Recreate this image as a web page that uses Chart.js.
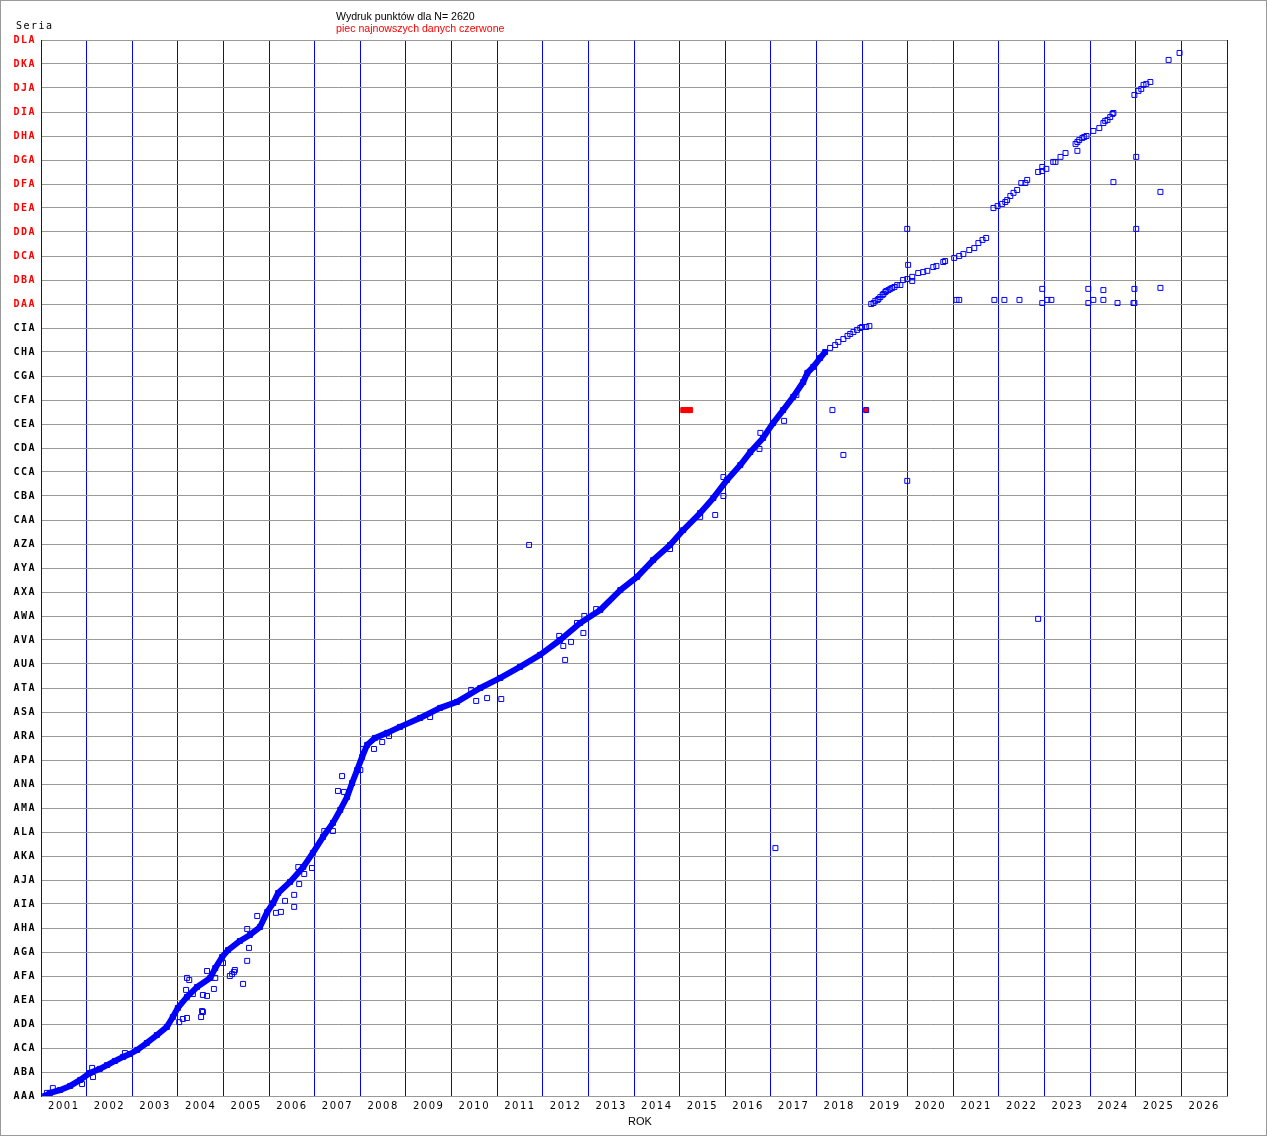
<!DOCTYPE html>
<html>
<head>
<meta charset="utf-8">
<script src="https://cdn.jsdelivr.net/npm/chart.js@4.4.1/dist/chart.umd.min.js"></script>
<style>
  html, body { margin: 0; padding: 0; background: #fff; }
  #wrap { width: 1267px; height: 1136px; }
</style>
</head>
<body>
<div id="wrap"><canvas id="c" width="1267" height="1136"></canvas></div>
<script>
// row labels of the vertical axis (index 0 = AAA at the bottom)
const rows = ['AAA','ABA','ACA','ADA','AEA','AFA','AGA','AHA','AIA','AJA','AKA','ALA','AMA','ANA','APA','ARA',
  'ASA','ATA','AUA','AVA','AWA','AXA','AYA','AZA','CAA','CBA','CCA','CDA','CEA','CFA','CGA','CHA','CIA',
  'DAA','DBA','DCA','DDA','DEA','DFA','DGA','DHA','DIA','DJA','DKA','DLA'];
const firstRedRow = 33; // DAA and above are printed red
const yearLabels = [2001,2002,2003,2004,2005,2006,2007,2008,2009,2010,2011,2012,2013,
  2014,2015,2016,2017,2018,2019,2020,2021,2022,2023,2024,2025,2026];

const titleText = 'Wydruk punktów dla N= 2620';
const subtitleText = 'piec najnowszych danych czerwone';
const yTitle = 'Seria';
const xTitle = 'ROK';

// dense part of the series 2001-2018 [year, row]
const mainCurve = [
  [2001.09,0],[2001.20,0.13],[2001.42,0.25],[2001.64,0.42],[2001.86,0.67],[2002.07,0.96],
  [2002.29,1.13],[2002.45,1.29],[2002.62,1.46],[2002.80,1.63],[2002.95,1.75],[2003.11,1.92],
  [2003.32,2.21],[2003.54,2.54],[2003.76,2.88],[2003.89,3.29],[2004.00,3.67],[2004.20,4.13],
  [2004.42,4.54],[2004.71,4.92],[2004.82,5.33],[2004.97,5.79],[2005.10,6.08],[2005.36,6.46],
  [2005.58,6.71],[2005.80,7.04],[2005.96,7.67],[2006.09,8.04],[2006.20,8.46],[2006.46,8.92],
  [2006.75,9.54],[2006.96,10.13],[2007.18,10.79],[2007.40,11.38],[2007.56,11.92],[2007.71,12.46],
  [2007.82,13.04],[2007.93,13.58],[2008.04,14.13],[2008.15,14.63],[2008.32,14.92],[2008.59,15.13],
  [2008.87,15.38],[2009.31,15.75],[2009.75,16.17],[2010.12,16.42],[2010.63,17.0],[2011.07,17.42],
  [2011.50,17.88],[2011.94,18.38],[2012.38,19.0],[2012.82,19.71],[2013.26,20.25],[2013.70,21.08],
  [2014.07,21.63],[2014.42,22.33],[2014.79,22.96],[2015.08,23.58],[2015.45,24.29],[2015.74,24.92],
  [2016.04,25.67],[2016.33,26.29],[2016.55,26.83],[2016.83,27.42],[2017.05,28.04],[2017.27,28.58],
  [2017.49,29.13],[2017.71,29.75],[2017.80,30.13],[2017.93,30.38],[2018.08,30.75],[2018.19,31.0]
];

// sparse part of the series 2018-2026
const laterPoints = [
  [2018.30,31.17],[2018.41,31.29],[2018.48,31.42],[2018.59,31.54],[2018.68,31.67],[2018.74,31.75],
  [2018.81,31.83],[2018.89,31.92],[2018.96,32.0],[2019.00,32.04],[2019.09,32.04],[2019.16,32.08],
  [2019.20,33.0],[2019.25,33.04],[2019.29,33.13],[2019.34,33.17],[2019.36,33.21],[2019.40,33.29],
  [2019.45,33.38],[2019.47,33.42],[2019.51,33.5],[2019.53,33.54],[2019.58,33.58],[2019.62,33.63],
  [2019.66,33.67],[2019.71,33.71],[2019.77,33.79],[2019.84,33.79],[2019.90,34.0],[2019.99,34.04],
  [2020.10,34.13],[2020.10,33.96],[2020.23,34.29],[2020.34,34.33],[2020.43,34.38],[2020.56,34.54],
  [2020.63,34.58],[2020.78,34.75],[2020.82,34.79],[2021.02,34.92],[2021.13,35.0],[2021.22,35.08],
  [2021.35,35.25],[2021.46,35.33],[2021.55,35.54],[2021.64,35.67],[2021.72,35.75],
  [2021.88,37.0],[2021.97,37.08],[2022.07,37.17],[2022.14,37.25],[2022.18,37.33],[2022.25,37.5],
  [2022.32,37.63],[2022.40,37.75],[2022.49,38.04],[2022.58,38.04],[2022.62,38.17],[2022.86,38.5],
  [2022.95,38.54],[2022.95,38.71],[2023.04,38.63],[2023.19,38.92],[2023.24,38.92],[2023.35,39.13],
  [2023.46,39.29],[2023.68,39.67],[2023.72,39.75],[2023.76,39.83],[2023.83,39.92],[2023.87,39.96],
  [2023.92,40.0],[2024.07,40.21],[2024.20,40.33],[2024.29,40.54],[2024.33,40.63],[2024.38,40.67],
  [2024.44,40.79],[2024.49,40.92],[2024.51,40.96],
  [2024.97,41.71],[2025.06,41.88],[2025.12,41.96],[2025.17,42.13],[2025.23,42.17],[2025.32,42.25],
  [2025.72,43.17],[2025.96,43.46]
];

// points lying off the main trend
const outliers = [
  [2001.13,0.13],[2001.26,0.33],[2001.90,0.5],[2002.12,1.17],[2002.14,0.79],[2002.84,1.79],
  [2004.03,3.08],[2004.11,3.21],[2004.20,3.25],[2004.51,3.29],[2004.53,3.54],[2004.55,3.5],
  [2004.18,4.42],[2004.33,4.25],[2004.55,4.21],[2004.64,4.17],[2004.79,4.46],[2004.20,4.92],
  [2004.25,4.83],[2004.64,5.21],[2004.82,4.92],[2004.99,5.54],[2005.14,5.0],[2005.19,5.08],
  [2005.23,5.17],[2005.25,5.25],[2005.43,4.67],[2005.52,5.63],[2005.56,6.17],[2005.52,6.96],
  [2005.74,7.5],[2006.15,7.63],[2006.26,7.67],[2006.35,8.13],[2006.55,7.88],[2006.55,8.38],
  [2006.66,8.83],[2006.77,9.25],[2006.94,9.5],[2006.64,9.54],[2007.21,11.04],[2007.40,11.04],
  [2007.51,12.71],[2007.60,13.33],[2007.64,12.67],[2008.00,13.58],[2008.06,14.46],[2008.30,14.46],
  [2008.48,14.75],[2008.63,15.0],[2009.53,15.79],[2010.43,16.92],[2010.54,16.46],[2010.78,16.58],
  [2011.09,16.54],[2011.70,22.96],[2012.36,19.17],[2012.45,18.75],[2012.49,18.17],[2012.62,18.92],
  [2012.75,19.71],[2012.89,19.29],[2012.91,20.0],[2013.17,20.29],[2014.79,22.79],[2015.45,24.13],
  [2015.78,24.21],[2015.96,25.0],[2015.96,25.79],[2016.75,26.96],[2016.77,27.63],[2017.29,28.13],
  [2017.56,29.21],[2017.10,10.33],[2018.35,28.58],[2018.59,26.71],[2019.99,25.63],[2019.99,36.13],
  [2020.01,34.63],[2022.86,19.88],[2023.72,39.38],[2024.51,38.08],[2025.01,39.13],[2025.01,36.13],
  [2025.54,37.67],
  [2021.07,33.17],[2021.13,33.17],[2021.90,33.17],[2022.12,33.17],[2022.45,33.17],[2022.95,33.63],
  [2022.95,33.04],[2023.06,33.17],[2023.15,33.17],[2023.96,33.63],[2023.96,33.04],[2024.07,33.17],
  [2024.29,33.58],[2024.29,33.17],[2024.60,33.04],[2024.95,33.04],[2024.97,33.04],[2024.97,33.63],
  [2025.54,33.67]
];

// five newest points (red) and one blue square with red fill
const newest = [[2015.08,28.58],[2015.12,28.58],[2015.17,28.58],[2015.21,28.58],[2015.23,28.58]];
const marked = [[2019.09,28.58]];

const toXY = arr => arr.map(p => ({ x: p[0], y: p[1] }));

const frame = {
  id: 'frame',
  beforeDraw(chart) {
    const ctx = chart.ctx;
    ctx.save();
    ctx.fillStyle = '#ffffff';
    ctx.fillRect(0, 0, chart.width, chart.height);
    ctx.strokeStyle = '#999999';
    ctx.lineWidth = 1;
    ctx.strokeRect(0.5, 0.5, chart.width - 1, chart.height - 1);
    ctx.restore();
    ctx.letterSpacing = '1.5px';
  },
  afterDraw(chart) {
    const ctx = chart.ctx;
    ctx.save();
    ctx.textAlign = 'left';
    ctx.textBaseline = 'alphabetic';
    ctx.fillStyle = '#000000';
    ctx.letterSpacing = '1.5px';
    ctx.font = '10px "DejaVu Sans Mono"';
    ctx.fillText(yTitle, 16, 29);
    ctx.letterSpacing = '0px';
    ctx.font = '10.6px "Liberation Sans"';
    ctx.fillText(titleText, 336, 20);
    ctx.fillStyle = '#ff0000';
    ctx.fillText(subtitleText, 336, 32);
    ctx.fillStyle = '#000000';
    ctx.textAlign = 'center';
    ctx.font = '11px "Liberation Sans"';
    ctx.fillText(xTitle, 640, 1125);
    ctx.restore();
  }
};

const square = { pointStyle: 'rect', pointRadius: 3.5, pointBorderWidth: 1, showLine: false };

new Chart(document.getElementById('c'), {
  type: 'scatter',
  data: {
    datasets: [
      Object.assign({ data: toXY(newest), pointBackgroundColor: '#ff0000', pointBorderColor: '#ff0000' }, square),
      Object.assign({ data: toXY(marked), pointBackgroundColor: '#ff0000', pointBorderColor: '#0000ff' }, square),
      Object.assign({ data: toXY(outliers), pointBackgroundColor: 'rgba(0,0,0,0)', pointBorderColor: '#0000ff' }, square),
      Object.assign({ data: toXY(laterPoints), pointBackgroundColor: 'rgba(0,0,0,0)', pointBorderColor: '#0000ff' }, square),
      {
        data: toXY(mainCurve),
        showLine: true,
        borderColor: '#0000ff',
        borderWidth: 6,
        borderJoinStyle: 'round',
        tension: 0,
        pointStyle: 'rect',
        pointRadius: 3.5,
        pointBorderWidth: 1,
        pointBackgroundColor: '#0000ff',
        pointBorderColor: '#0000ff'
      }
    ]
  },
  options: {
    responsive: false,
    animation: false,
    events: [],
    layout: { padding: { left: 0, top: 40, right: 40, bottom: 0 } },
    plugins: {
      legend: { display: false },
      tooltip: { enabled: false },
      title: { display: false }
    },
    scales: {
      x: {
        type: 'linear',
        min: 2001,
        max: 2027,
        afterFit(scale) { scale.height = 40; },
        grid: { color: '#0000ff', lineWidth: 1, drawTicks: false },
        border: { color: '#999999' },
        ticks: {
          stepSize: 1,
          autoSkip: false,
          maxRotation: 0,
          labelOffset: 22.8,
          padding: 4,
          color: '#000000',
          font: { family: 'DejaVu Sans', size: 10 },
          callback: v => yearLabels.includes(v) ? String(v) : ''
        }
      },
      y: {
        type: 'linear',
        min: 0,
        max: 44,
        afterFit(scale) { scale.width = 41; },
        grid: { color: '#999999', lineWidth: 1, drawTicks: false },
        border: { color: '#0000ff' },
        ticks: {
          stepSize: 1,
          autoSkip: false,
          padding: 5,
          font: { family: 'DejaVu Sans Mono', size: 10, weight: 'bold' },
          color: c => c.tick.value >= firstRedRow ? '#ff0000' : '#000000',
          callback: v => rows[v]
        }
      }
    }
  },
  plugins: [frame]
});
</script>
</body>
</html>
